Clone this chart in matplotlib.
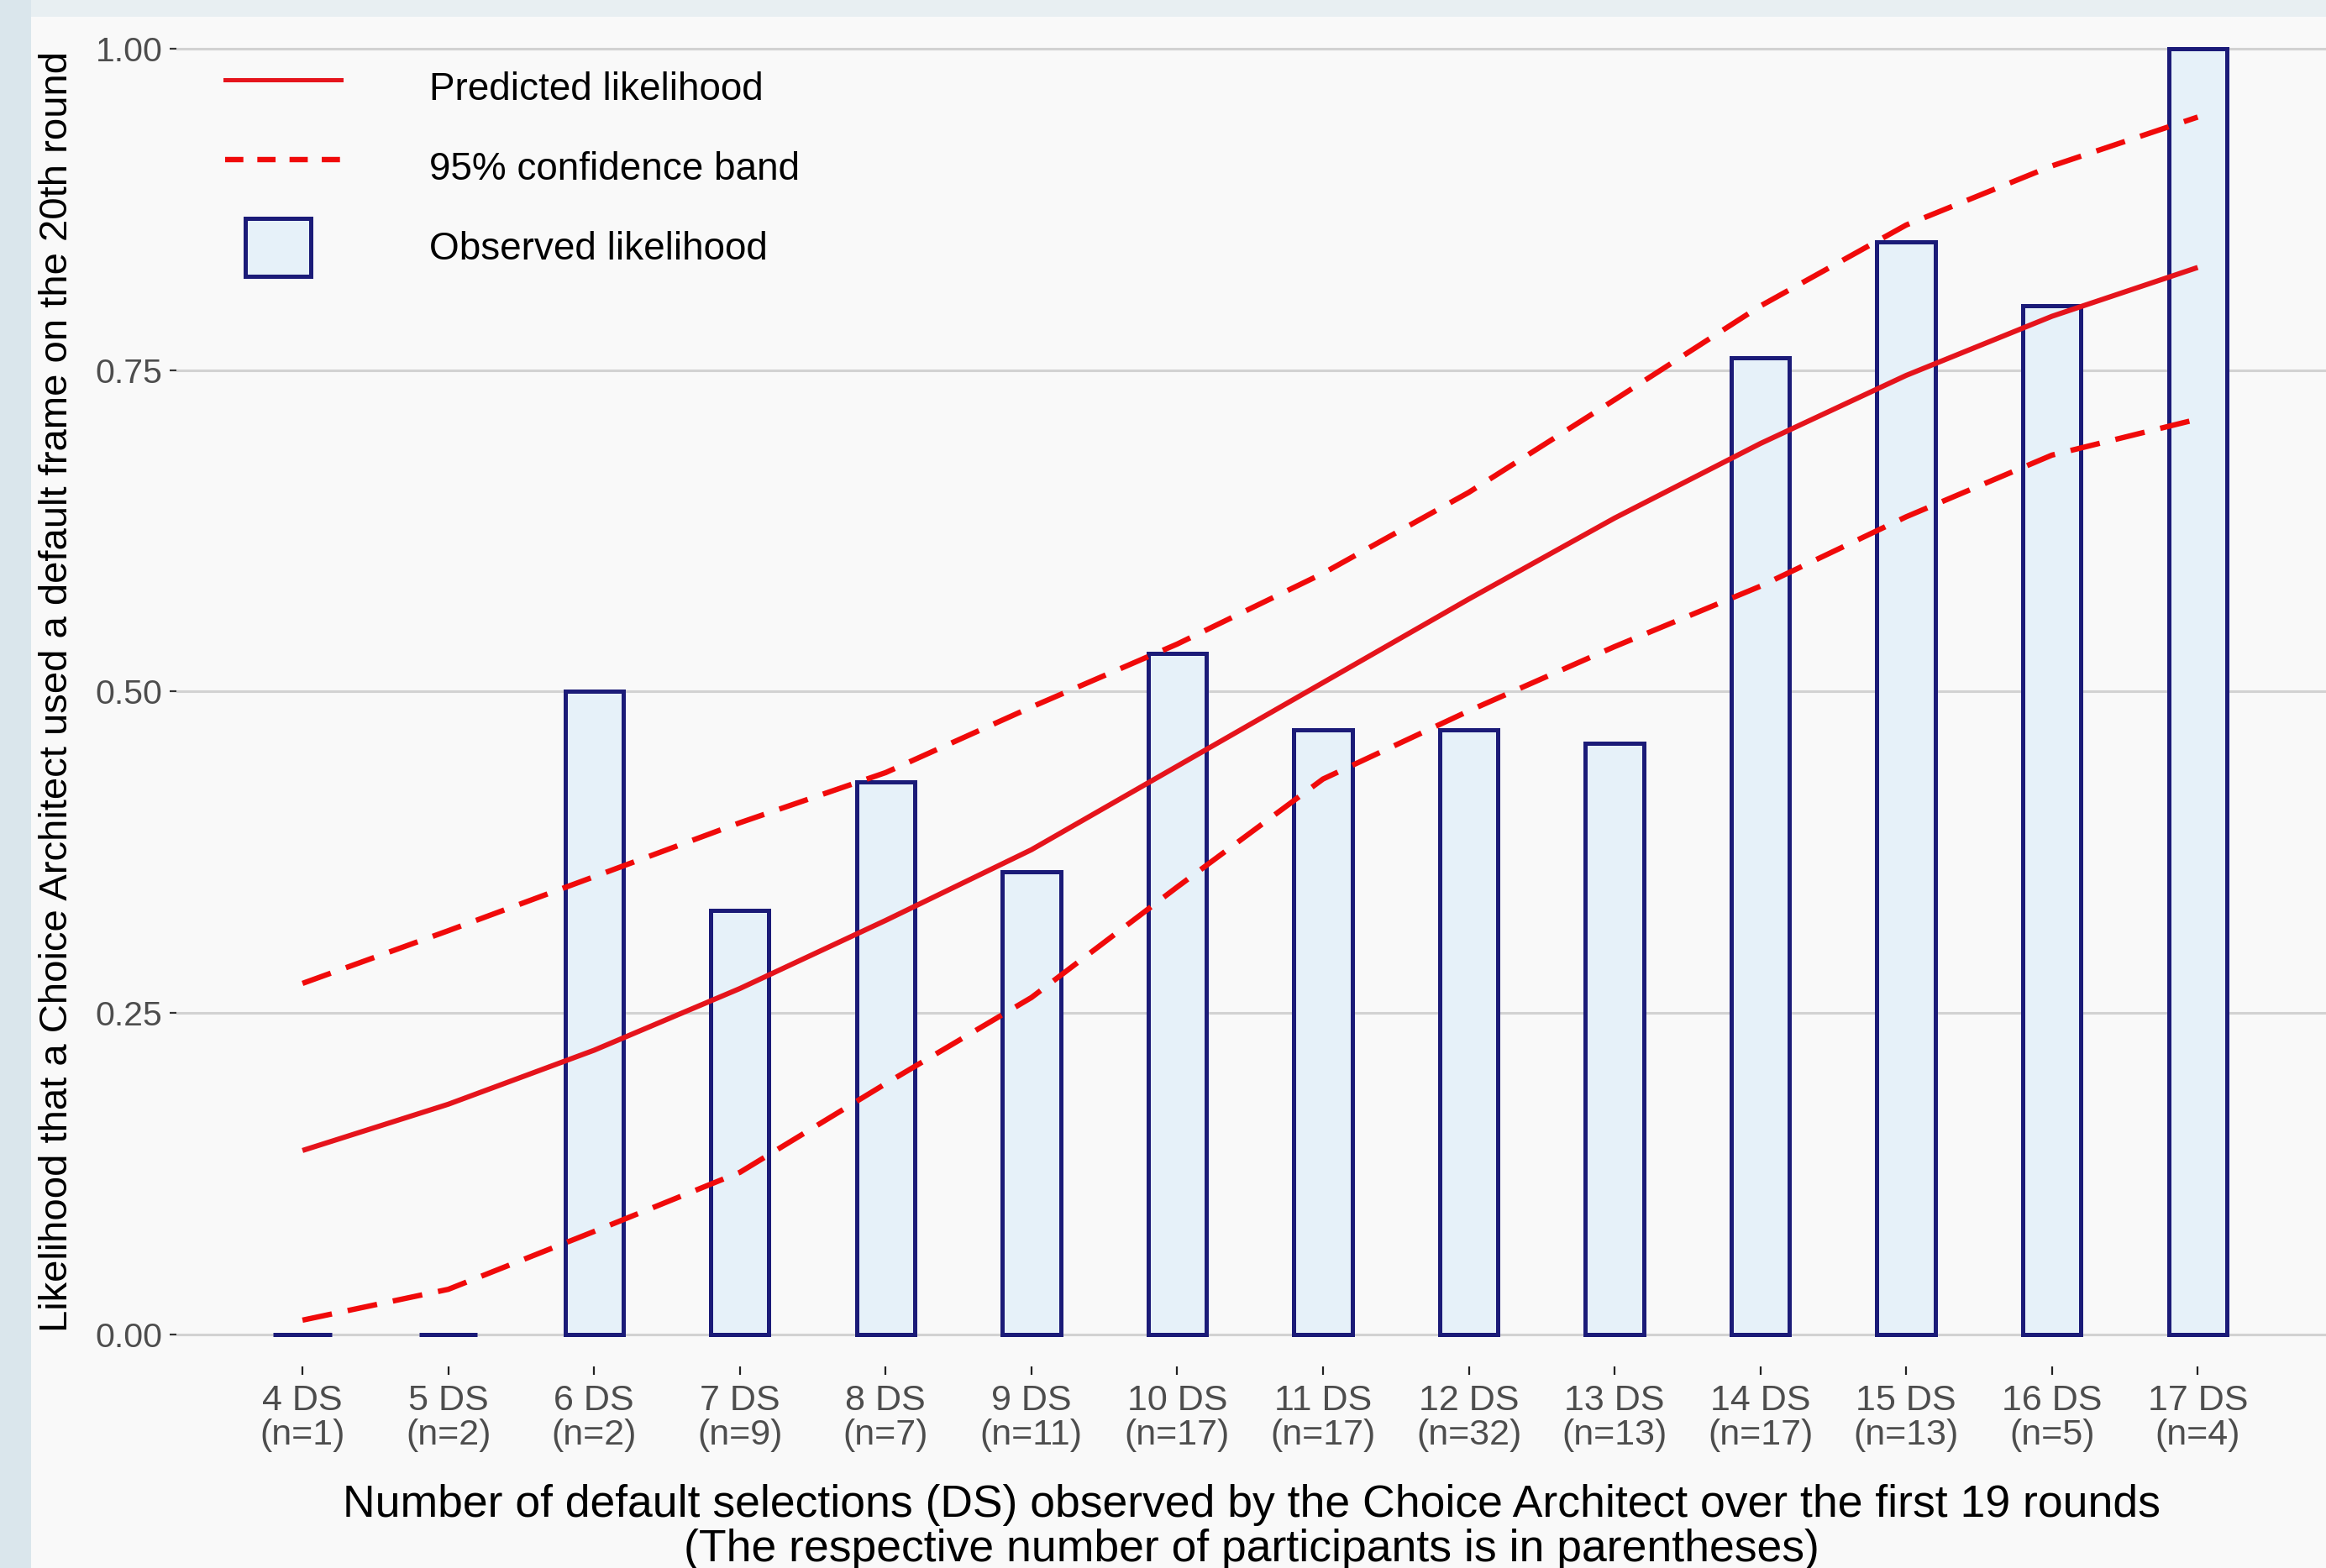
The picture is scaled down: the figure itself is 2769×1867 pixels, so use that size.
import matplotlib
matplotlib.use("Agg")
import matplotlib.pyplot as plt
from matplotlib.patches import Rectangle
from matplotlib.lines import Line2D
from matplotlib.legend_handler import HandlerPatch

plt.rcParams["font.family"] = ["Liberation Sans", "DejaVu Sans"]

# Number of default selections observed over the first 19 rounds
ds_counts = [4, 5, 6, 7, 8, 9, 10, 11, 12, 13, 14, 15, 16, 17]
participants = [1, 2, 2, 9, 7, 11, 17, 17, 32, 13, 17, 13, 5, 4]

# Share of participants using a default frame in round 20
observed = [0.00, 0.00, 0.50, 0.33, 0.43, 0.36, 0.53, 0.47, 0.47, 0.46,
            0.76, 0.85, 0.80, 1.00]

# Model prediction and its 95% confidence band
predicted = [0.143, 0.179, 0.221, 0.269, 0.322, 0.377, 0.442, 0.507,
             0.572, 0.635, 0.693, 0.746, 0.792, 0.830]
ci_upper = [0.273, 0.314, 0.356, 0.398, 0.437, 0.488, 0.537, 0.592,
            0.655, 0.727, 0.800, 0.863, 0.909, 0.947]
ci_lower = [0.011, 0.035, 0.080, 0.126, 0.195, 0.262, 0.348, 0.432,
            0.485, 0.535, 0.582, 0.636, 0.684, 0.712]

tick_labels = [f"{d} DS\n(n={n})" for d, n in zip(ds_counts, participants)]
y_ticks = [0.00, 0.25, 0.50, 0.75, 1.00]
legend_labels = ["Predicted likelihood", "95% confidence band",
                 "Observed likelihood"]

W, H = 2769, 1867
fig = plt.figure(figsize=(W / 100, H / 100), dpi=100)
fig.patch.set_facecolor("#e8eff2")
fig.add_artist(Rectangle((0, 0), 37 / W, 1, transform=fig.transFigure,
                         facecolor="#dae6ec", edgecolor="none", zorder=-2))
fig.add_artist(Rectangle((37 / W, 0), 1, (H - 20) / H, transform=fig.transFigure,
                         facecolor="#f9f9f9", edgecolor="none", zorder=-1))

ax_left, ax_right = 210 / W, 1.0
ax_bottom, ax_top = (H - 1627) / H, (H - 20) / H
ax = fig.add_axes([ax_left, ax_bottom, ax_right - ax_left, ax_top - ax_bottom])
ax.set_facecolor("#f9f9f9")

bar_fill = "#e6f1f9"
bar_edge = "#1b1b78"
red_solid = "#e5141c"
red_dash = "#f00a0a"

ax.bar(ds_counts, observed, width=0.40, color=bar_fill, edgecolor=bar_edge,
       linewidth=3.6, zorder=2)
ax.plot(ds_counts, predicted, color=red_solid, linewidth=4.4, zorder=3,
        solid_capstyle="butt", solid_joinstyle="round")
ax.plot(ds_counts, ci_upper, color=red_dash, linewidth=4.6, zorder=3,
        linestyle=(0, (5.6, 3.0)))
ax.plot(ds_counts, ci_lower, color=red_dash, linewidth=4.6, zorder=3,
        linestyle=(0, (5.6, 3.0)))

ax.set_xlim(3.135, 17.88)
ax.set_ylim(-0.025, 1.025)
ax.set_yticks(y_ticks)
ax.set_yticklabels([f"{v:.2f}" for v in y_ticks])
ax.set_xticks(ds_counts)
ax.set_xticklabels(tick_labels, linespacing=1.05)

for s in ax.spines.values():
    s.set_visible(False)
ax.grid(axis="y", color="#d2d2d2", linewidth=2.2)
ax.grid(axis="x", visible=False)
ax.set_axisbelow(True)

ax.tick_params(axis="x", length=7, width=1.6, color="#222222", pad=8,
               labelsize=31, labelcolor="#4d4d4d")
ax.tick_params(axis="y", length=6, width=1.6, color="#333333", pad=6,
               labelsize=29.5, labelcolor="#4d4d4d")

ax.set_ylabel("Likelihood that a Choice Architect used a default frame on the 20th round",
              fontsize=34, color="black", labelpad=17)
ax.set_xlabel("Number of default selections (DS) observed by the Choice Architect over the first 19 rounds\n"
              "(The respective number of participants is in parentheses)",
              fontsize=38.5, color="black", linespacing=1.08, labelpad=27)


def narrow_box(legend, orig_handle, xdescent, ydescent, width, height, fontsize):
    w = 0.57 * width
    return Rectangle((-xdescent + (width - w) / 2 - 4, -ydescent), w, height)


handles = [
    Line2D([], [], color=red_solid, linewidth=3.6),
    Line2D([], [], color=red_dash, linewidth=4.6, linestyle=(0, (3.4, 2.6))),
    Rectangle((0, 0), 1, 1, facecolor=bar_fill, edgecolor=bar_edge, linewidth=3.6),
]
leg = ax.legend(handles, legend_labels, loc="upper left",
                bbox_to_anchor=(58 / 2559, 1 - 50 / 1607),
                frameon=False, fontsize=33, handlelength=3.0, handleheight=1.95,
                handletextpad=2.3, labelspacing=0.56, borderpad=0, borderaxespad=0,
                handler_map={Rectangle: HandlerPatch(patch_func=narrow_box)})

fig.savefig("out.png", dpi=100, facecolor=fig.get_facecolor())
